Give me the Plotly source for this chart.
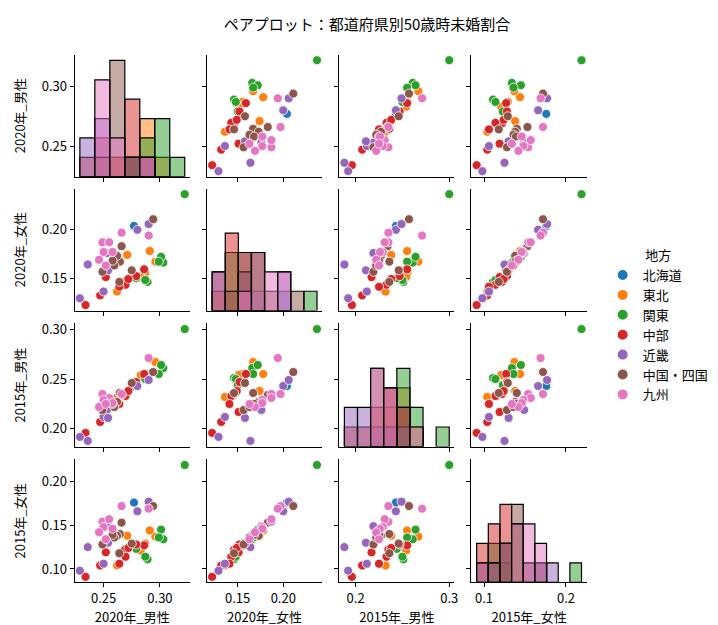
import numpy as np
import plotly.graph_objects as go

# ---------------- data ----------------
regions_order = ["北海道", "東北", "関東", "中部", "近畿", "中国・四国", "九州"]
region_colors = ["#1f77b4", "#ff7f0e", "#2ca02c", "#d62728", "#9467bd", "#8c564b", "#e377c2"]

var_names = ["2020年_男性", "2020年_女性", "2015年_男性", "2015年_女性"]

region = (["北海道"]
          + ["東北"] * 6
          + ["関東"] * 7
          + ["中部"] * 9
          + ["近畿"] * 7
          + ["中国・四国"] * 9
          + ["九州"] * 8)

m2020 = [0.277,
         0.296, 0.291, 0.287, 0.283, 0.271, 0.262,
         0.303, 0.301, 0.299, 0.289, 0.287, 0.279, 0.322,
         0.286, 0.279, 0.269, 0.2695, 0.264, 0.252, 0.247, 0.234, 0.272,
         0.229, 0.236, 0.250, 0.253, 0.254, 0.280, 0.290,
         0.294, 0.275, 0.264, 0.266, 0.2645, 0.262, 0.249, 0.2595, 0.258,
         0.266, 0.290, 0.249, 0.255, 0.250, 0.258, 0.246, 0.252]

f2020 = [0.204,
         0.167, 0.178, 0.155, 0.151, 0.174, 0.136,
         0.166, 0.172, 0.167, 0.146, 0.148, 0.150, 0.237,
         0.159, 0.152, 0.146, 0.143, 0.141, 0.151, 0.132, 0.122, 0.149,
         0.129, 0.164, 0.136, 0.176, 0.158, 0.200, 0.206,
         0.211, 0.158, 0.146, 0.183, 0.167, 0.173, 0.1565, 0.163, 0.168,
         0.197, 0.194, 0.187, 0.187, 0.177, 0.177, 0.169, 0.163]

m2015 = [0.243,
         0.267, 0.255, 0.255, 0.254, 0.238, 0.232,
         0.261, 0.264, 0.255, 0.251, 0.250, 0.244, 0.300,
         0.255, 0.247, 0.235, 0.233, 0.225, 0.217, 0.207, 0.196, 0.238,
         0.192, 0.188, 0.212, 0.219, 0.211, 0.243, 0.249,
         0.257, 0.246, 0.236, 0.234, 0.236, 0.227, 0.219, 0.222, 0.225,
         0.235, 0.271, 0.235, 0.231, 0.229, 0.226, 0.222, 0.225]

f2015 = [0.176,
         0.137, 0.144, 0.129, 0.121, 0.138, 0.104,
         0.134, 0.145, 0.136, 0.111, 0.114, 0.123, 0.219,
         0.127, 0.128, 0.122, 0.114, 0.106, 0.119, 0.104, 0.091, 0.124,
         0.098, 0.125, 0.106, 0.149, 0.130, 0.166, 0.177,
         0.172, 0.129, 0.118, 0.153, 0.140, 0.138, 0.128, 0.136, 0.139,
         0.172, 0.169, 0.154, 0.157, 0.148, 0.146, 0.142, 0.134]

hist_bins = [7, 8, 8, 9]
x_tickvals = [[0.25, 0.30], [0.15, 0.20], [0.2, 0.3], [0.1, 0.2]]
x_tickfmt = [".2f", ".2f", ".1f", ".1f"]
y_tickvals = [[0.25, 0.30], [0.15, 0.20], [0.20, 0.25, 0.30], [0.10, 0.15, 0.20]]
count_top = 6.3

# ---------------- layout geometry ----------------
W, H = 718, 625
col_px = [(67, 183), (200, 316), (333, 449), (466, 582)]
row_px = [(42, 165), (177, 300), (313, 437), (450, 574)]
FONT = "Noto Sans CJK JP"


def xdom(c):
    a, b = col_px[c]
    return [a / W, b / W]


def ydom(r):
    a, b = row_px[r]
    return [1 - b / H, 1 - a / H]


data = [np.array(m2020), np.array(f2020), np.array(m2015), np.array(f2015)]
reg = np.array(region)

ranges = []
for v in data:
    lo, hi = v.min(), v.max()
    pad = 0.05 * (hi - lo)
    ranges.append([lo - pad, hi + pad])


def axname(kind, n):
    return kind if n == 1 else f"{kind}{n}"


def rgba(hexc, a):
    h = hexc.lstrip("#")
    return f"rgba({int(h[0:2],16)},{int(h[2:4],16)},{int(h[4:6],16)},{a})"


fig = go.Figure()

tickfont = dict(family=FONT, size=13, color="black")
axstyle = dict(showline=True, linecolor="black", linewidth=1.1, ticks="outside",
               ticklen=4, tickwidth=1.1, tickcolor="black", showgrid=False,
               zeroline=False, mirror=False, tickfont=tickfont)
titlefont = dict(family=FONT, size=13, color="black")

layout_axes = {}
for r in range(4):
    for c in range(4):
        n = r * 4 + c + 1
        xa, ya = axname("x", n), axname("y", n)
        layout_axes[axname("xaxis", n)] = dict(
            domain=xdom(c), anchor=ya, range=ranges[c],
            tickvals=x_tickvals[c], tickformat=x_tickfmt[c],
            showticklabels=(r == 3),
            title=dict(text=var_names[c] if r == 3 else "", standoff=0,
                       font=titlefont),
            **axstyle)
        ytitle = dict(text=var_names[r] if c == 0 else "", standoff=13, font=titlefont)
        if r == c:
            # diagonal: count axis, ticks placed where the row variable's ticks fall
            lo, hi = ranges[r]
            tv = [(t - lo) / (hi - lo) * count_top for t in y_tickvals[r]]
            layout_axes[axname("yaxis", n)] = dict(
                domain=ydom(r), anchor=xa, range=[0, count_top],
                tickvals=tv, ticktext=[f"{t:.2f}" for t in y_tickvals[r]],
                showticklabels=(c == 0), title=ytitle, **axstyle)
            edges = np.linspace(data[c].min(), data[c].max(), hist_bins[c] + 1)
            width = edges[1] - edges[0]
            centers = (edges[:-1] + edges[1:]) / 2
            for g, col in zip(regions_order, region_colors):
                counts, _ = np.histogram(data[c][reg == g], bins=edges)
                mask = counts > 0
                fig.add_trace(go.Bar(
                    x=centers[mask], y=counts[mask], width=width,
                    marker=dict(color=rgba(col, 0.5),
                                line=dict(color="black", width=1.2)),
                    xaxis=xa, yaxis=ya, showlegend=False,
                    legendgroup=g, name=g, hoverinfo="skip"))
        else:
            layout_axes[axname("yaxis", n)] = dict(
                domain=ydom(r), anchor=xa, range=ranges[r],
                tickvals=y_tickvals[r], tickformat=".2f",
                showticklabels=(c == 0), title=ytitle, **axstyle)
            for g, col in zip(regions_order, region_colors):
                sel = reg == g
                fig.add_trace(go.Scatter(
                    x=data[c][sel], y=data[r][sel], mode="markers",
                    marker=dict(size=9, color=col,
                                line=dict(color="white", width=0.8)),
                    xaxis=xa, yaxis=ya, name=g, legendgroup=g,
                    showlegend=(r == 0 and c == 1)))

fig.update_layout(
    width=W, height=H,
    margin=dict(l=0, r=0, t=0, b=0),
    paper_bgcolor="white", plot_bgcolor="white",
    barmode="overlay",
    font=dict(family=FONT, size=13, color="black"),
    title=dict(text="ペアプロット：都道府県別50歳時未婚割合",
               x=0.5, xanchor="center", y=1 - 17 / H, yanchor="middle",
               font=dict(family=FONT, size=15, color="black")),
    legend=dict(x=598 / W, y=1 - 232 / H, xanchor="left", yanchor="top",
                title=dict(text="地方", side="top center",
                           font=dict(family=FONT, size=13)),
                font=dict(family=FONT, size=13),
                bgcolor="rgba(0,0,0,0)", tracegroupgap=0,
                itemsizing="constant"),
    **layout_axes,
)

fig.write_html("out.html")
